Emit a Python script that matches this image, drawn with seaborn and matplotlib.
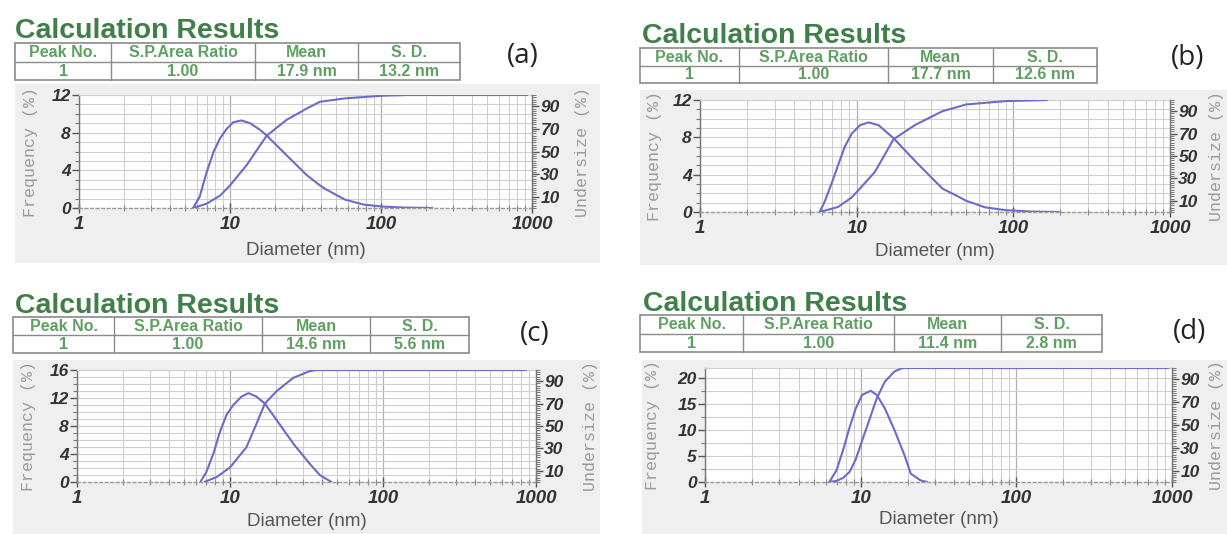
import matplotlib
matplotlib.use("Agg")
import matplotlib.pyplot as plt
import seaborn as sns
import numpy as np
from matplotlib.patches import Rectangle
from matplotlib.lines import Line2D
from matplotlib.ticker import MultipleLocator, LogLocator, NullFormatter

# ---------------- data ----------------
PANEL_LABELS = ["(a)", "(b)", "(c)", "(d)"]
TABLE_HEADERS = ["Peak No.", "S.P.Area Ratio", "Mean", "S. D."]
PEAK_NO = ["1", "1", "1", "1"]
AREA_RATIO = ["1.00", "1.00", "1.00", "1.00"]
MEAN = ["17.9 nm", "17.7 nm", "14.6 nm", "11.4 nm"]
SD = ["13.2 nm", "12.6 nm", "5.6 nm", "2.8 nm"]

XTICKS = [1, 10, 100, 1000]
XTICK_LABELS = ["1", "10", "100", "1000"]
UNDERSIZE_TICKS = [10, 30, 50, 70, 90]

A_FREQ_D = [5.7, 6.3, 7.0, 7.8, 8.6, 9.5, 10.5, 11.9, 13.6, 15.8, 17.5, 23.7, 32.2, 39.4, 43, 57.5, 77, 103, 140, 219]
A_FREQ = [0, 1.2, 3.8, 6.0, 7.4, 8.4, 9.1, 9.3, 9.0, 8.3, 7.7, 5.6, 3.5, 2.4, 2.0, 0.9, 0.36, 0.15, 0.05, 0]
A_CUM_D = [5.7, 7.0, 8.6, 10, 12.9, 17.5, 23.7, 32.2, 39.4, 57.5, 103, 150, 930]
A_CUM = [0, 3.8, 11, 20, 38, 64, 78, 88, 94, 97, 99.4, 100, 100]
A_YTICKS = [0, 4, 8, 12]

B_FREQ_D = [5.8, 6.25, 6.9, 7.6, 8.4, 9.3, 10.5, 11.9, 13.8, 17.2, 23.8, 35.3, 44, 50, 66, 89, 130, 195]
B_FREQ = [0, 1.1, 3.0, 5.0, 7.0, 8.4, 9.3, 9.6, 9.3, 7.9, 5.4, 2.5, 1.7, 1.2, 0.5, 0.2, 0.05, 0]
B_CUM_D = [5.8, 7.6, 9.3, 10.5, 13.1, 17.2, 23.8, 35.3, 50, 89, 164]
B_CUM = [0, 4.5, 13, 21, 36, 65, 78, 90, 96, 99, 100]
B_YTICKS = [0, 4, 8, 12]

C_FREQ_D = [6.4, 7.0, 7.8, 8.6, 9.5, 10.5, 11.9, 13.2, 14.9, 16.9, 20.1, 25.9, 33.2, 38.6, 46]
C_FREQ = [0, 1.4, 4.1, 7.2, 9.6, 11.0, 12.2, 12.7, 12.2, 11.2, 8.9, 5.5, 2.6, 1.0, 0]
C_CUM_D = [6.8, 8.2, 10, 12.8, 14.9, 16.9, 20.1, 25.9, 33.2, 36.7, 860]
C_CUM = [0, 4.5, 13, 31, 52, 70, 81, 93, 99, 100, 100]
C_YTICKS = [0, 4, 8, 12, 16]

D_FREQ_D = [6.3, 7.0, 7.7, 8.5, 9.3, 10.2, 11.6, 12.7, 14.3, 16.5, 19.1, 21.0, 24.3, 26.7]
D_FREQ = [0, 2.3, 6.1, 10.6, 14.2, 16.8, 17.6, 16.8, 14.2, 10.0, 5.2, 1.6, 0.3, 0]
D_CUM_D = [6.3, 7.0, 7.7, 8.5, 9.3, 10.2, 11.6, 12.7, 14.3, 16.5, 18.6, 950]
D_CUM = [0, 1, 3.5, 9, 20, 36, 58, 73.5, 88, 97, 100, 100]
D_YTICKS = [0, 5, 10, 15, 20]

# ---------------- style ----------------
W, H = 1227, 534
sns.set_theme(style="white")
plt.rcParams["font.family"] = ["Liberation Sans", "DejaVu Sans"]

LINE = "#6b6bcc"
GRID = "#cfcfcf"
GRID_MAJ = "#b0b0b0"
BG = "#efefef"
TITLE_GREEN = "#3f7f4a"
TABLE_GREEN = "#5f9f62"
TICK_TXT = "#333333"
AX_LBL = "#9a9a9a"

fig = plt.figure(figsize=(W / 100, H / 100), dpi=100)
fig.patch.set_facecolor("white")


def fx(x):
    return x / W


def fy(y):
    return 1 - y / H


# layout per panel (pixel positions)
layouts = [
    dict(bg=(15, 84, 600, 263), title=(15, 38), table=(15, 43, 460, 80, [111, 255, 358]),
         lab=(523, 56), ax=(79, 95, 532, 208), ymax=12, ystep=1,
         xlab_y=250, flab_x=31, ulab_x=583),
    dict(bg=(640, 90, 1227, 265), title=(642, 43), table=(640, 48, 1097, 83, [739, 888, 993]),
         lab=(1188, 58), ax=(700, 100, 1170, 212), ymax=12, ystep=1,
         xlab_y=251, flab_x=654, ulab_x=1216),
    dict(bg=(13, 360, 600, 534), title=(15, 313), table=(13, 317, 469, 353, [114, 262, 370]),
         lab=(535, 334), ax=(77, 370, 536, 482), ymax=16, ystep=1,
         xlab_y=522, flab_x=29, ulab_x=590),
    dict(bg=(642, 360, 1227, 534), title=(643, 311), table=(640, 315, 1102, 352, [743, 894, 1001]),
         lab=(1190, 332), ax=(705, 368, 1172, 482), ymax=22, ystep=2.5,
         xlab_y=520, flab_x=652, ulab_x=1216),
]

series = [
    (A_FREQ_D, A_FREQ, A_CUM_D, A_CUM, A_YTICKS),
    (B_FREQ_D, B_FREQ, B_CUM_D, B_CUM, B_YTICKS),
    (C_FREQ_D, C_FREQ, C_CUM_D, C_CUM, C_YTICKS),
    (D_FREQ_D, D_FREQ, D_CUM_D, D_CUM, D_YTICKS),
]

for i, (lay, (fd, fv, cd, cv, yticks)) in enumerate(zip(layouts, series)):
    # grey background
    x0, y0, x1, y1 = lay["bg"]
    fig.add_artist(Rectangle((fx(x0), fy(y1)), (x1 - x0) / W, (y1 - y0) / H,
                             transform=fig.transFigure, facecolor=BG,
                             edgecolor="none", zorder=-5))
    # title
    tx, ty = lay["title"]
    fig.text(fx(tx), fy(ty), "Calculation Results", fontsize=20.5, fontweight="bold",
             color=TITLE_GREEN, ha="left", va="baseline")
    # table
    t0, ty0, t1, ty1, divs = lay["table"]
    fig.add_artist(Rectangle((fx(t0), fy(ty1)), (t1 - t0) / W, (ty1 - ty0) / H,
                             transform=fig.transFigure, facecolor="white",
                             edgecolor="#8a8a8a", lw=1.2, zorder=1))
    ymid = (ty0 + ty1) / 2
    fig.add_artist(Line2D([fx(t0), fx(t1)], [fy(ymid), fy(ymid)],
                          transform=fig.transFigure, color="#8a8a8a", lw=1.0, zorder=2))
    for d in divs:
        fig.add_artist(Line2D([fx(d), fx(d)], [fy(ty0), fy(ty1)],
                              transform=fig.transFigure, color="#8a8a8a", lw=1.0, zorder=2))
    edges = [t0] + divs + [t1]
    row_vals = [PEAK_NO[i], AREA_RATIO[i], MEAN[i], SD[i]]
    for c in range(4):
        cx = (edges[c] + edges[c + 1]) / 2
        fig.text(fx(cx), fy((ty0 + ymid) / 2 + 0.5), TABLE_HEADERS[c], fontsize=11.5,
                 fontweight="bold", color=TABLE_GREEN, ha="center", va="center", zorder=3)
        fig.text(fx(cx), fy((ymid + ty1) / 2 + 0.5), row_vals[c], fontsize=11.5,
                 fontweight="bold", color=TABLE_GREEN, ha="center", va="center", zorder=3)
    # panel label
    lx, ly = lay["lab"]
    fig.text(fx(lx), fy(ly), PANEL_LABELS[i], fontsize=20, color="#222222",
             family=["Open Sans", "DejaVu Sans"], ha="center", va="center")

    # plot axes
    a0, b0, a1, b1 = lay["ax"]
    ax = fig.add_axes([fx(a0), fy(b1), (a1 - a0) / W, (b1 - b0) / H])
    ax.set_facecolor("white")
    ax.set_xscale("log")
    sns.lineplot(x=fd, y=fv, ax=ax, color=LINE, lw=1.5, legend=False)
    ax.set_xlim(1, 1000)
    ax.set_ylim(0, lay["ymax"])
    ax.set_xticks(XTICKS)
    ax.set_xticklabels(XTICK_LABELS, fontstyle="italic", fontweight="bold",
                       fontsize=13.5, color=TICK_TXT)
    ax.xaxis.set_minor_locator(LogLocator(base=10, subs=np.arange(2, 10)))
    ax.xaxis.set_minor_formatter(NullFormatter())
    ax.set_yticks(yticks)
    ax.set_yticklabels([str(t) for t in yticks], fontstyle="italic", fontweight="bold",
                       fontsize=12.5, color=TICK_TXT)
    ax.yaxis.set_minor_locator(MultipleLocator(lay["ystep"]))
    ax.grid(True, which="major", axis="x", color=GRID_MAJ, lw=0.9)
    ax.grid(True, which="minor", axis="x", color=GRID, lw=0.8)
    ax.grid(True, which="both", axis="y", color=GRID, lw=0.8)
    ax.set_axisbelow(True)
    ax.tick_params(axis="y", which="major", direction="out", length=5, width=1,
                   color="#555555", left=True, pad=1)
    ax.tick_params(axis="y", which="minor", direction="out", length=3, width=0.8,
                   color="#777777", left=True)
    ax.tick_params(axis="x", which="major", direction="inout", length=7, width=1,
                   color="#555555", bottom=True, pad=2)
    ax.tick_params(axis="x", which="minor", direction="inout", length=4, width=0.8,
                   color="#888888", bottom=True)
    ax.spines["top"].set_color(GRID)
    ax.spines["top"].set_linewidth(0.8)
    ax.spines["left"].set_color("#777777")
    ax.spines["left"].set_linewidth(1.0)
    ax.spines["bottom"].set_color("#9a9a9a")
    ax.spines["bottom"].set_linestyle((0, (2, 2)))
    ax.spines["bottom"].set_linewidth(1.0)
    ax.spines["right"].set_visible(False)

    ax.set_xlabel("Diameter (nm)", fontsize=13.5, color="#555555")
    ax.xaxis.set_label_coords(0.5, -(lay["xlab_y"] - b1) / (b1 - b0))
    ax.xaxis.label.set_va("center")
    ax.set_ylabel("Frequency (%)", fontsize=12, color=AX_LBL,
                  family=["Liberation Mono", "DejaVu Sans Mono"])
    ax.yaxis.set_label_coords((lay["flab_x"] - a0) / (a1 - a0), 0.5)
    ax.yaxis.label.set_va("center")

    ax2 = ax.twinx()
    sns.lineplot(x=cd, y=cv, ax=ax2, color=LINE, lw=1.5, legend=False)
    ax2.set_ylim(0, 100)
    ax2.set_xlim(1, 1000)
    ax2.grid(False)
    ax2.set_yticks(UNDERSIZE_TICKS)
    ax2.set_yticklabels([str(t) for t in UNDERSIZE_TICKS], fontstyle="italic",
                        fontweight="bold", fontsize=12.5, color=TICK_TXT)
    ax2.yaxis.set_minor_locator(MultipleLocator(2))
    ax2.tick_params(axis="y", which="major", direction="out", length=5, width=1,
                    color="#555555", right=True, pad=1)
    ax2.tick_params(axis="y", which="minor", direction="out", length=3, width=0.7,
                    color="#777777", right=True)
    for s in ["top", "left", "bottom"]:
        ax2.spines[s].set_visible(False)
    ax2.spines["right"].set_color("#777777")
    ax2.spines["right"].set_linewidth(1.0)
    ax2.set_ylabel("Undersize (%)", fontsize=12, color=AX_LBL, rotation=90,
                   family=["Liberation Mono", "DejaVu Sans Mono"])
    ax2.yaxis.set_label_coords((lay["ulab_x"] - a0) / (a1 - a0), 0.5)
    ax2.yaxis.label.set_va("center")

fig.savefig("out.png", dpi=100, facecolor="white")
